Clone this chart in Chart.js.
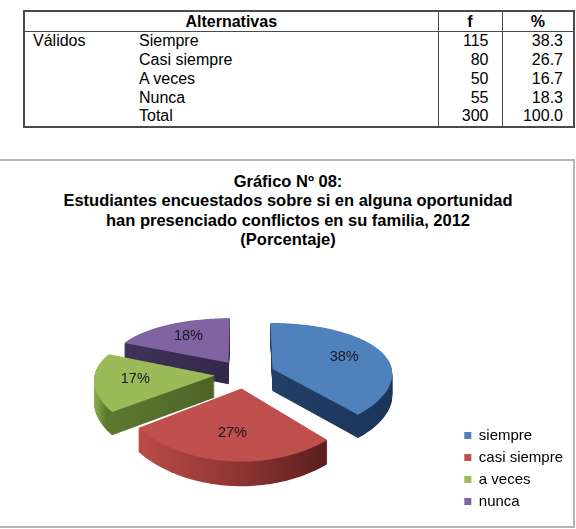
<!DOCTYPE html>
<html lang="es">
<head>
<meta charset="UTF-8">
<title>Gráfico Nº 08</title>
<script src="https://cdn.jsdelivr.net/npm/chart.js@4.4.1/dist/chart.umd.min.js"></script>
<style>
    body {
        margin: 0;
        width: 576px;
        height: 529px;
        position: relative;
        overflow: hidden;
        background: #fff;
        font-family: "Liberation Sans", Arial, sans-serif;
        color: #000;
    }
    #tabla {
        position: absolute;
        left: 23px;
        top: 10px;
        width: 550px;
        border-collapse: collapse;
        table-layout: fixed;
        font-size: 16px;
        border: 2px solid #4a4a4a;
    }
    #tabla th {
        font-weight: bold;
        height: 19px;
        line-height: 19px;
        padding: 0;
        text-align: center;
        border-bottom: 1px solid #4a4a4a;
    }
    #tabla td {
        height: 18.75px;
        line-height: 18px;
        padding: 0;
        white-space: nowrap;
    }
    #tabla .c1 { padding-left: 8px; }
    #tabla .c2 { padding-left: 7px; }
    #tabla .cf { text-align: right; padding-right: 13px; border-left: 1px solid #4a4a4a; }
    #tabla .cp { text-align: right; padding-right: 10px; border-left: 1px solid #4a4a4a; }
    #tabla th.cf, #tabla th.cp { text-align: center; padding-right: 0; }
    .marco {
        position: absolute;
        left: -2px;
        top: 159px;
        width: 577px;
        height: 369px;
        box-sizing: border-box;
        border: 2px solid #b4b4b4;
    }
    .titulo {
        position: absolute;
        left: 18px;
        width: 540px;
        top: 172px;
        text-align: center;
        font-weight: bold;
        font-size: 16.5px;
        line-height: 19.3px;
        white-space: nowrap;
    }
    #grafico {
        position: absolute;
        left: 0;
        top: 162px;
    }
</style>
</head>
<body>
    <table id="tabla">
        <colgroup>
            <col style="width:108px"><col style="width:306px"><col style="width:64px"><col style="width:72px">
        </colgroup>
        <thead>
            <tr><th colspan="2">Alternativas</th><th class="cf">f</th><th class="cp">%</th></tr>
        </thead>
        <tbody id="cuerpo"></tbody>
    </table>

    <div class="marco"></div>
    <div class="titulo">Gráfico Nº 08:<br>Estudiantes encuestados sobre si en alguna oportunidad<br>han presenciado conflictos en su familia, 2012<br>(Porcentaje)</div>
    <canvas id="grafico" width="573" height="364"></canvas>

<script>
    // datos de la tabla / grafico
    const alternativas = ['Siempre', 'Casi siempre', 'A veces', 'Nunca'];
    const frecuencias = [115, 80, 50, 55];
    const porcentajes = [38.3, 26.7, 16.7, 18.3];
    const leyenda = ['siempre', 'casi siempre', 'a veces', 'nunca'];

    // colores (cara superior y lateral de cada porcion)
    const colorCara = ['#4F81BD', '#C0504D', '#9BBB59', '#8064A2'];
    const colorLado = [
        [[0, '#223F66'], [1, '#1C3559']],
        [[0, '#BA4B48'], [0.55, '#8C3432'], [1, '#5A1E1D']],
        [[0, '#8DAE4E'], [0.1, '#5E7A31'], [1, '#4D6326']],
        [[0, '#403259'], [1, '#33284A']]
    ];

    // vista 3D: achatamiento, perspectiva, grosor
    const VISTA = { squash: 0.462, persp: 0.0014, spread: 0.0006, depth: 22, deep: 0.0008, capas: 36 };

    // tabla
    const cuerpo = document.getElementById('cuerpo');
    const total = frecuencias.reduce((a, b) => a + b, 0);
    alternativas.forEach((alt, i) => {
        const tr = document.createElement('tr');
        tr.innerHTML = `<td class="c1">${i === 0 ? 'Válidos' : ''}</td><td class="c2">${alt}</td>` +
            `<td class="cf">${frecuencias[i]}</td><td class="cp">${porcentajes[i].toFixed(1)}</td>`;
        cuerpo.appendChild(tr);
    });
    const trTotal = document.createElement('tr');
    trTotal.innerHTML = `<td class="c1"></td><td class="c2">Total</td><td class="cf">${total}</td>` +
        `<td class="cp">${porcentajes.reduce((a, b) => a + b, 0).toFixed(1)}</td>`;
    cuerpo.appendChild(trTotal);

    // pastel 3D dibujado a partir de los arcos que calcula Chart.js
    const pastel3d = {
        id: 'pastel3d',
        beforeDatasetsDraw(chart) {
            const ctx = chart.ctx;
            const arcs = chart.getDatasetMeta(0).data;
            const ox = arcs[0].x, oy = arcs[0].y;
            const proj = (x, y) => {
                const dy = y - oy;
                return {
                    x: ox + (x - ox) * (1 + VISTA.spread * dy),
                    y: oy + VISTA.squash * dy / (1 - VISTA.persp * dy),
                    d: VISTA.depth * (1 + VISTA.deep * dy)
                };
            };

            const porciones = arcs.map((arc, i) => {
                const mid = (arc.startAngle + arc.endAngle) / 2;
                const off = arc.options.offset;
                const ex = arc.x + Math.cos(mid) * off;
                const ey = arc.y + Math.sin(mid) * off;
                const pts = [proj(ex, ey)];
                const n = Math.max(10, Math.ceil((arc.endAngle - arc.startAngle) * 40));
                for (let k = 0; k <= n; k++) {
                    const a = arc.startAngle + (arc.endAngle - arc.startAngle) * k / n;
                    pts.push(proj(ex + Math.cos(a) * arc.outerRadius, ey + Math.sin(a) * arc.outerRadius));
                }
                const r = arc.outerRadius * 0.66;
                return { i, ey, pts, etiqueta: proj(ex + Math.cos(mid) * r, ey + Math.sin(mid) * r) };
            });

            // de atras hacia adelante
            porciones.sort((a, b) => a.ey - b.ey);
            ctx.save();
            for (const p of porciones) {
                const xs = p.pts.map(q => q.x);
                const grad = ctx.createLinearGradient(Math.min(...xs), 0, Math.max(...xs), 0);
                colorLado[p.i].forEach(([pos, c]) => grad.addColorStop(pos, c));
                for (let L = VISTA.capas; L >= 0; L--) {
                    const t = L / VISTA.capas;
                    ctx.beginPath();
                    p.pts.forEach((q, j) => j ? ctx.lineTo(q.x, q.y + t * q.d) : ctx.moveTo(q.x, q.y + t * q.d));
                    ctx.closePath();
                    ctx.fillStyle = L ? grad : colorCara[p.i];
                    ctx.fill();
                }
            }

            // etiquetas de porcentaje
            const valores = chart.data.datasets[0].data;
            const suma = valores.reduce((a, b) => a + b, 0);
            ctx.font = '14.5px "Liberation Sans", Arial, sans-serif';
            ctx.fillStyle = '#161624';
            ctx.textAlign = 'center';
            ctx.textBaseline = 'middle';
            for (const p of porciones) {
                ctx.fillText(Math.round(valores[p.i] / suma * 100) + '%', p.etiqueta.x, p.etiqueta.y);
            }
            ctx.restore();
            return false;
        }
    };

    new Chart(document.getElementById('grafico'), {
        type: 'pie',
        data: {
            labels: leyenda,
            datasets: [{
                data: frecuencias,
                backgroundColor: colorCara,
                borderWidth: 0,
                offset: 30
            }]
        },
        options: {
            responsive: false,
            animation: false,
            radius: 120,
            layout: { padding: { left: 32, top: 70, bottom: 10, right: 0 } },
            plugins: {
                legend: {
                    position: 'right',
                    align: 'end',
                    labels: {
                        boxWidth: 7,
                        boxHeight: 7,
                        padding: 7,
                        color: '#000',
                        font: { family: '"Liberation Sans", Arial, sans-serif', size: 15 }
                    }
                },
                tooltip: { enabled: false }
            }
        },
        plugins: [pastel3d]
    });
</script>
</body>
</html>
